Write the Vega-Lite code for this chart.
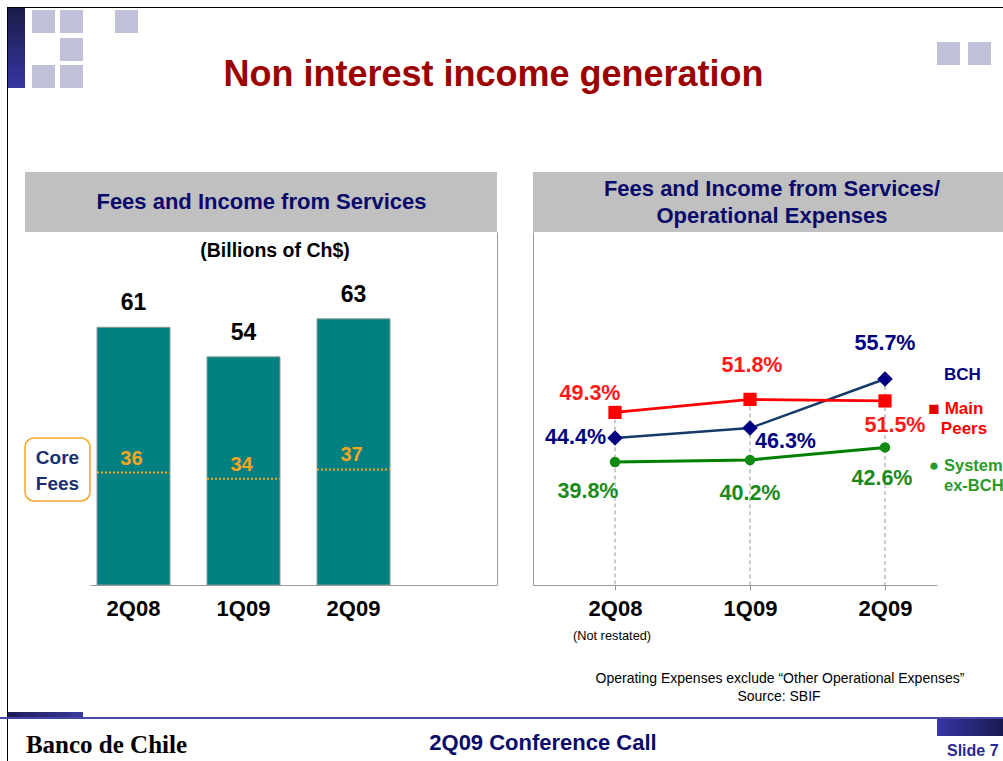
{
  "$schema": "https://vega.github.io/schema/vega-lite/v6.json",
  "padding": 0,
  "background": "white",
  "columns": 6,
  "spacing": 0,
  "bounds": "flush",
  "align": "each",
  "config": {
    "font": "Liberation Sans",
    "view": {"stroke": null},
    "concat": {"spacing": 0},
    "axis": {"grid": false, "title": null}
  },
  "concat": [
    {"columns": 10, "spacing": 0, "bounds": "flush", "align": "each",
     "concat": [
       {"width": 7, "height": 7, "data": {"values": [{}]}, "mark": {"type": "rect", "opacity": 0}},
       {"width": 1, "height": 7, "data": {"values": [{}]}, "mark": {"type": "rect", "opacity": 0}},
       {"width": 17, "height": 7, "data": {"values": [{}]}, "mark": {"type": "rect", "opacity": 0}},
       {"width": 7, "height": 7, "data": {"values": [{}]}, "mark": {"type": "rect", "opacity": 0}},
       {"width": 23, "height": 7, "data": {"values": [{}]}, "mark": {"type": "rect", "opacity": 0}},
       {"width": 5, "height": 7, "data": {"values": [{}]}, "mark": {"type": "rect", "opacity": 0}},
       {"width": 23, "height": 7, "data": {"values": [{}]}, "mark": {"type": "rect", "opacity": 0}},
       {"width": 32, "height": 7, "data": {"values": [{}]}, "mark": {"type": "rect", "opacity": 0}},
       {"width": 23, "height": 7, "data": {"values": [{}]}, "mark": {"type": "rect", "opacity": 0}},
       {"width": 865, "height": 7, "data": {"values": [{}]}, "mark": {"type": "rect", "opacity": 0}},

       {"width": 7, "height": 1, "data": {"values": [{}]}, "mark": {"type": "rect", "opacity": 0}},
       {"width": 1, "height": 1, "view": {"fill": "#000000"}, "data": {"values": [{}]}, "mark": {"type": "rect", "opacity": 0}},
       {"width": 17, "height": 1, "view": {"fill": "#000000"}, "data": {"values": [{}]}, "mark": {"type": "rect", "opacity": 0}},
       {"width": 7, "height": 1, "view": {"fill": "#000000"}, "data": {"values": [{}]}, "mark": {"type": "rect", "opacity": 0}},
       {"width": 23, "height": 1, "view": {"fill": "#000000"}, "data": {"values": [{}]}, "mark": {"type": "rect", "opacity": 0}},
       {"width": 5, "height": 1, "view": {"fill": "#000000"}, "data": {"values": [{}]}, "mark": {"type": "rect", "opacity": 0}},
       {"width": 23, "height": 1, "view": {"fill": "#000000"}, "data": {"values": [{}]}, "mark": {"type": "rect", "opacity": 0}},
       {"width": 32, "height": 1, "view": {"fill": "#000000"}, "data": {"values": [{}]}, "mark": {"type": "rect", "opacity": 0}},
       {"width": 23, "height": 1, "view": {"fill": "#000000"}, "data": {"values": [{}]}, "mark": {"type": "rect", "opacity": 0}},
       {"width": 865, "height": 1, "view": {"fill": "#000000"}, "data": {"values": [{}]}, "mark": {"type": "rect", "opacity": 0}},

       {"width": 7, "height": 2, "data": {"values": [{}]}, "mark": {"type": "rect", "opacity": 0}},
       {"width": 1, "height": 2, "view": {"fill": "#000000"}, "data": {"values": [{}]}, "mark": {"type": "rect", "opacity": 0}},
       {"width": 17, "height": 2, "view": {"fill": "#1c1c49"}, "data": {"values": [{}]}, "mark": {"type": "rect", "opacity": 0}},
       {"width": 1, "height": 1, "data": {"values": [{}]}, "mark": {"type": "rect", "opacity": 0}},
       {"width": 1, "height": 1, "data": {"values": [{}]}, "mark": {"type": "rect", "opacity": 0}},
       {"width": 1, "height": 1, "data": {"values": [{}]}, "mark": {"type": "rect", "opacity": 0}},
       {"width": 1, "height": 1, "data": {"values": [{}]}, "mark": {"type": "rect", "opacity": 0}},
       {"width": 1, "height": 1, "data": {"values": [{}]}, "mark": {"type": "rect", "opacity": 0}},
       {"width": 1, "height": 1, "data": {"values": [{}]}, "mark": {"type": "rect", "opacity": 0}},
       {"width": 1, "height": 1, "data": {"values": [{}]}, "mark": {"type": "rect", "opacity": 0}},

       {"width": 7, "height": 23, "data": {"values": [{}]}, "mark": {"type": "rect", "opacity": 0}},
       {"width": 1, "height": 23, "view": {"fill": "#000000"}, "data": {"values": [{}]}, "mark": {"type": "rect", "opacity": 0}},
       {"width": 17, "height": 23, "view": {"fill": {"gradient": "linear", "x1": 0, "y1": 0, "x2": 0, "y2": 1, "stops": [{"offset": 0, "color": "#1d1d4a"}, {"offset": 1, "color": "#242465"}]}}, "data": {"values": [{}]}, "mark": {"type": "rect", "opacity": 0}},
       {"width": 1, "height": 1, "data": {"values": [{}]}, "mark": {"type": "rect", "opacity": 0}},
       {"width": 23, "height": 23, "view": {"fill": "#c0c0d8"}, "data": {"values": [{}]}, "mark": {"type": "rect", "opacity": 0}},
       {"width": 1, "height": 1, "data": {"values": [{}]}, "mark": {"type": "rect", "opacity": 0}},
       {"width": 23, "height": 23, "view": {"fill": "#c0c0d8"}, "data": {"values": [{}]}, "mark": {"type": "rect", "opacity": 0}},
       {"width": 1, "height": 1, "data": {"values": [{}]}, "mark": {"type": "rect", "opacity": 0}},
       {"width": 23, "height": 23, "view": {"fill": "#c0c0d8"}, "data": {"values": [{}]}, "mark": {"type": "rect", "opacity": 0}},
       {"width": 1, "height": 1, "data": {"values": [{}]}, "mark": {"type": "rect", "opacity": 0}},

       {"width": 7, "height": 5, "data": {"values": [{}]}, "mark": {"type": "rect", "opacity": 0}},
       {"width": 1, "height": 5, "view": {"fill": "#000000"}, "data": {"values": [{}]}, "mark": {"type": "rect", "opacity": 0}},
       {"width": 17, "height": 5, "view": {"fill": {"gradient": "linear", "x1": 0, "y1": 0, "x2": 0, "y2": 1, "stops": [{"offset": 0, "color": "#242465"}, {"offset": 1, "color": "#26266a"}]}}, "data": {"values": [{}]}, "mark": {"type": "rect", "opacity": 0}},
       {"width": 1, "height": 1, "data": {"values": [{}]}, "mark": {"type": "rect", "opacity": 0}},
       {"width": 1, "height": 1, "data": {"values": [{}]}, "mark": {"type": "rect", "opacity": 0}},
       {"width": 1, "height": 1, "data": {"values": [{}]}, "mark": {"type": "rect", "opacity": 0}},
       {"width": 1, "height": 1, "data": {"values": [{}]}, "mark": {"type": "rect", "opacity": 0}},
       {"width": 1, "height": 1, "data": {"values": [{}]}, "mark": {"type": "rect", "opacity": 0}},
       {"width": 1, "height": 1, "data": {"values": [{}]}, "mark": {"type": "rect", "opacity": 0}},
       {"width": 1, "height": 1, "data": {"values": [{}]}, "mark": {"type": "rect", "opacity": 0}},

       {"width": 7, "height": 23, "data": {"values": [{}]}, "mark": {"type": "rect", "opacity": 0}},
       {"width": 1, "height": 23, "view": {"fill": "#000000"}, "data": {"values": [{}]}, "mark": {"type": "rect", "opacity": 0}},
       {"width": 17, "height": 23, "view": {"fill": {"gradient": "linear", "x1": 0, "y1": 0, "x2": 0, "y2": 1, "stops": [{"offset": 0, "color": "#26266a"}, {"offset": 1, "color": "#2d2d85"}]}}, "data": {"values": [{}]}, "mark": {"type": "rect", "opacity": 0}},
       {"width": 1, "height": 1, "data": {"values": [{}]}, "mark": {"type": "rect", "opacity": 0}},
       {"width": 1, "height": 1, "data": {"values": [{}]}, "mark": {"type": "rect", "opacity": 0}},
       {"width": 1, "height": 1, "data": {"values": [{}]}, "mark": {"type": "rect", "opacity": 0}},
       {"width": 23, "height": 23, "view": {"fill": "#c0c0d8"}, "data": {"values": [{}]}, "mark": {"type": "rect", "opacity": 0}},
       {"width": 1, "height": 1, "data": {"values": [{}]}, "mark": {"type": "rect", "opacity": 0}},
       {"width": 1, "height": 1, "data": {"values": [{}]}, "mark": {"type": "rect", "opacity": 0}},
       {"width": 1, "height": 1, "data": {"values": [{}]}, "mark": {"type": "rect", "opacity": 0}},

       {"width": 7, "height": 4, "data": {"values": [{}]}, "mark": {"type": "rect", "opacity": 0}},
       {"width": 1, "height": 4, "view": {"fill": "#000000"}, "data": {"values": [{}]}, "mark": {"type": "rect", "opacity": 0}},
       {"width": 17, "height": 4, "view": {"fill": "#2d2d87"}, "data": {"values": [{}]}, "mark": {"type": "rect", "opacity": 0}},
       {"width": 1, "height": 1, "data": {"values": [{}]}, "mark": {"type": "rect", "opacity": 0}},
       {"width": 1, "height": 1, "data": {"values": [{}]}, "mark": {"type": "rect", "opacity": 0}},
       {"width": 1, "height": 1, "data": {"values": [{}]}, "mark": {"type": "rect", "opacity": 0}},
       {"width": 1, "height": 1, "data": {"values": [{}]}, "mark": {"type": "rect", "opacity": 0}},
       {"width": 1, "height": 1, "data": {"values": [{}]}, "mark": {"type": "rect", "opacity": 0}},
       {"width": 1, "height": 1, "data": {"values": [{}]}, "mark": {"type": "rect", "opacity": 0}},
       {"width": 1, "height": 1, "data": {"values": [{}]}, "mark": {"type": "rect", "opacity": 0}},

       {"width": 7, "height": 23, "data": {"values": [{}]}, "mark": {"type": "rect", "opacity": 0}},
       {"width": 1, "height": 23, "view": {"fill": "#000000"}, "data": {"values": [{}]}, "mark": {"type": "rect", "opacity": 0}},
       {"width": 17, "height": 23, "view": {"fill": {"gradient": "linear", "x1": 0, "y1": 0, "x2": 0, "y2": 1, "stops": [{"offset": 0, "color": "#2e2e8a"}, {"offset": 1, "color": "#3636a4"}]}}, "data": {"values": [{}]}, "mark": {"type": "rect", "opacity": 0}},
       {"width": 1, "height": 1, "data": {"values": [{}]}, "mark": {"type": "rect", "opacity": 0}},
       {"width": 23, "height": 23, "view": {"fill": "#c0c0d8"}, "data": {"values": [{}]}, "mark": {"type": "rect", "opacity": 0}},
       {"width": 1, "height": 1, "data": {"values": [{}]}, "mark": {"type": "rect", "opacity": 0}},
       {"width": 23, "height": 23, "view": {"fill": "#c0c0d8"}, "data": {"values": [{}]}, "mark": {"type": "rect", "opacity": 0}},
       {"width": 1, "height": 1, "data": {"values": [{}]}, "mark": {"type": "rect", "opacity": 0}},
       {"width": 1, "height": 1, "data": {"values": [{}]}, "mark": {"type": "rect", "opacity": 0}},
       {"width": 1, "height": 1, "data": {"values": [{}]}, "mark": {"type": "rect", "opacity": 0}},

       {"width": 7, "height": 624, "data": {"values": [{}]}, "mark": {"type": "rect", "opacity": 0}},
       {"width": 1, "height": 624, "view": {"fill": "#000000"}, "data": {"values": [{}]}, "mark": {"type": "rect", "opacity": 0}},
       {"width": 1, "height": 1, "data": {"values": [{}]}, "mark": {"type": "rect", "opacity": 0}},
       {"width": 1, "height": 1, "data": {"values": [{}]}, "mark": {"type": "rect", "opacity": 0}},
       {"width": 1, "height": 1, "data": {"values": [{}]}, "mark": {"type": "rect", "opacity": 0}},
       {"width": 1, "height": 1, "data": {"values": [{}]}, "mark": {"type": "rect", "opacity": 0}},
       {"width": 1, "height": 1, "data": {"values": [{}]}, "mark": {"type": "rect", "opacity": 0}},
       {"width": 1, "height": 1, "data": {"values": [{}]}, "mark": {"type": "rect", "opacity": 0}},
       {"width": 1, "height": 1, "data": {"values": [{}]}, "mark": {"type": "rect", "opacity": 0}},
       {"width": 1, "height": 1, "data": {"values": [{}]}, "mark": {"type": "rect", "opacity": 0}},

       {"width": 7, "height": 6, "data": {"values": [{}]}, "mark": {"type": "rect", "opacity": 0}},
       {"width": 1, "height": 6, "view": {"fill": "#000000"}, "data": {"values": [{}]}, "mark": {"type": "rect", "opacity": 0}},
       {"width": 17, "height": 6, "view": {"fill": {"gradient": "linear", "x1": 0, "y1": 0, "x2": 1, "y2": 0, "stops": [{"offset": 0, "color": "#1c1c58"}, {"offset": 1, "color": "#232368"}]}}, "data": {"values": [{}]}, "mark": {"type": "rect", "opacity": 0}},
       {"width": 7, "height": 6, "view": {"fill": {"gradient": "linear", "x1": 0, "y1": 0, "x2": 1, "y2": 0, "stops": [{"offset": 0, "color": "#232368"}, {"offset": 1, "color": "#26266e"}]}}, "data": {"values": [{}]}, "mark": {"type": "rect", "opacity": 0}},
       {"width": 23, "height": 6, "view": {"fill": {"gradient": "linear", "x1": 0, "y1": 0, "x2": 1, "y2": 0, "stops": [{"offset": 0, "color": "#26266e"}, {"offset": 1, "color": "#2e2e82"}]}}, "data": {"values": [{}]}, "mark": {"type": "rect", "opacity": 0}},
       {"width": 5, "height": 6, "view": {"fill": {"gradient": "linear", "x1": 0, "y1": 0, "x2": 1, "y2": 0, "stops": [{"offset": 0, "color": "#2e2e82"}, {"offset": 1, "color": "#303086"}]}}, "data": {"values": [{}]}, "mark": {"type": "rect", "opacity": 0}},
       {"width": 23, "height": 6, "view": {"fill": {"gradient": "linear", "x1": 0, "y1": 0, "x2": 1, "y2": 0, "stops": [{"offset": 0, "color": "#303086"}, {"offset": 1, "color": "#3a3a9e"}]}}, "data": {"values": [{}]}, "mark": {"type": "rect", "opacity": 0}},
       {"width": 1, "height": 1, "data": {"values": [{}]}, "mark": {"type": "rect", "opacity": 0}},
       {"width": 1, "height": 1, "data": {"values": [{}]}, "mark": {"type": "rect", "opacity": 0}},
       {"width": 1, "height": 1, "data": {"values": [{}]}, "mark": {"type": "rect", "opacity": 0}},

       {"width": 7, "height": 43, "data": {"values": [{}]}, "mark": {"type": "rect", "opacity": 0}},
       {"width": 1, "height": 43, "view": {"fill": "#000000"}, "data": {"values": [{}]}, "mark": {"type": "rect", "opacity": 0}},
       {"width": 1, "height": 1, "data": {"values": [{}]}, "mark": {"type": "rect", "opacity": 0}},
       {"width": 1, "height": 1, "data": {"values": [{}]}, "mark": {"type": "rect", "opacity": 0}},
       {"width": 1, "height": 1, "data": {"values": [{}]}, "mark": {"type": "rect", "opacity": 0}},
       {"width": 1, "height": 1, "data": {"values": [{}]}, "mark": {"type": "rect", "opacity": 0}},
       {"width": 1, "height": 1, "data": {"values": [{}]}, "mark": {"type": "rect", "opacity": 0}},
       {"width": 1, "height": 1, "data": {"values": [{}]}, "mark": {"type": "rect", "opacity": 0}},
       {"width": 1, "height": 1, "data": {"values": [{}]}, "mark": {"type": "rect", "opacity": 0}},
       {"width": 1, "height": 1, "data": {"values": [{}]}, "mark": {"type": "rect", "opacity": 0}}
     ]},
    {"width": 65, "height": 172, "data": {"values": [{}]}, "mark": {"type": "rect", "opacity": 0}},
    {"width": 407, "height": 172, "data": {"values": [{}]},
     "mark": {"type": "text", "text": "Non interest income generation", "fontSize": 36, "fontWeight": "bold", "color": "#9c0000", "dx": 200, "dy": -11}},
    {"width": 36, "height": 172, "data": {"values": [{}]}, "mark": {"type": "rect", "opacity": 0}},
    {"width": 404, "height": 172, "data": {"values": [{}]}, "mark": {"type": "rect", "opacity": 0}},
    {"columns": 3, "spacing": 0, "bounds": "flush", "align": "each",
     "concat": [
       {"width": 23, "height": 42, "data": {"values": [{}]}, "mark": {"type": "rect", "opacity": 0}},
       {"width": 8, "height": 1, "data": {"values": [{}]}, "mark": {"type": "rect", "opacity": 0}},
       {"width": 23, "height": 1, "data": {"values": [{}]}, "mark": {"type": "rect", "opacity": 0}},
       {"width": 23, "height": 23, "view": {"fill": "#c0c0d8"}, "data": {"values": [{}]}, "mark": {"type": "rect", "opacity": 0}},
       {"width": 1, "height": 1, "data": {"values": [{}]}, "mark": {"type": "rect", "opacity": 0}},
       {"width": 23, "height": 23, "view": {"fill": "#c0c0d8"}, "data": {"values": [{}]}, "mark": {"type": "rect", "opacity": 0}}
     ]},

    {"width": 25, "height": 60, "data": {"values": [{}]}, "mark": {"type": "rect", "opacity": 0}},
    {"width": 65, "height": 60, "view": {"fill": "#c0c0c0"}, "data": {"values": [{}]}, "mark": {"type": "rect", "opacity": 0}},
    {"width": 407, "height": 60, "view": {"fill": "#c0c0c0"}, "data": {"values": [{}]},
     "mark": {"type": "text", "text": "Fees and Income from Services", "fontSize": 22, "fontWeight": "bold", "color": "#0a0a6a", "dx": -32}},
    {"width": 36, "height": 60, "data": {"values": [{}]}, "mark": {"type": "rect", "opacity": 0}},
    {"width": 404, "height": 60, "view": {"fill": "#c0c0c0"}, "data": {"values": [{}]}, "mark": {"type": "rect", "opacity": 0}},
    {"width": 66, "height": 60, "view": {"fill": "#c0c0c0"}, "data": {"values": [{}]},
     "mark": {"type": "text", "text": ["Fees and Income from Services/", "Operational Expenses"], "lineHeight": 27, "fontSize": 22, "fontWeight": "bold", "color": "#0a0a6a", "dx": -198, "dy": -13.5}},

    {"width": 25, "height": 353, "data": {"values": [{}]}, "mark": {"type": "rect", "opacity": 0}},
    {"width": 65, "height": 353, "data": {"values": [{}]},
     "layer": [
       {"mark": {"type": "rect", "fill": "white", "stroke": "#f5a623", "strokeWidth": 1.5, "cornerRadius": 9},
        "encoding": {"y": {"datum": 34.79, "type": "quantitative", "scale": {"domain": [0, 83.55], "nice": false, "zero": false}, "axis": null}, "y2": {"datum": 19.88}}},
       {"mark": {"type": "text", "text": ["Core", "Fees"], "lineHeight": 26, "fontSize": 19, "fontWeight": "bold", "color": "#1a2e6e"},
        "encoding": {"y": {"datum": 30.06, "type": "quantitative"}}}
     ]},
    {"width": 407, "height": 353,
     "data": {"values": [
       {"q": "2Q08", "total": 61, "core": 36},
       {"q": "1Q09", "total": 54, "core": 34},
       {"q": "2Q09", "total": 63, "core": 37}
     ]},
     "encoding": {
       "x": {"field": "q", "type": "nominal", "sort": null,
             "scale": {"paddingInner": 0.3364, "paddingOuter": 0.518, "align": 0.0614},
             "axis": {"orient": "bottom", "labelAngle": 0, "labelFontSize": 22, "labelFontWeight": "bold", "labelColor": "black", "ticks": false, "labelPadding": 13, "domain": true, "domainColor": "#999999", "title": null}}
     },
     "layer": [
       {"mark": {"type": "bar", "color": "#008080", "stroke": "#8f9a9a", "strokeWidth": 1},
        "encoding": {"y": {"field": "total", "type": "quantitative", "scale": {"domain": [0, 83.55], "nice": false},
                           "axis": {"orient": "right", "domain": true, "domainColor": "#999999", "ticks": false, "labels": false, "grid": false, "title": null}}}},
       {"mark": {"type": "text", "fontSize": 23, "fontWeight": "bold", "color": "black", "baseline": "alphabetic", "dy": -17},
        "encoding": {"y": {"field": "total", "type": "quantitative", "scale": {"domain": [0, 83.55], "nice": false}, "axis": null},
                     "text": {"field": "total", "type": "quantitative"}}},
       {"mark": {"type": "bar", "fill": "transparent", "stroke": "#f5a623", "strokeWidth": 2, "strokeDash": [2, 2]},
        "encoding": {"y": {"field": "core", "type": "quantitative", "scale": {"domain": [0, 112.96], "nice": false}, "axis": null},
                     "y2": {"field": "core"}}},
       {"mark": {"type": "text", "fontSize": 20, "fontWeight": "bold", "color": "#f5a623", "baseline": "alphabetic", "dy": -8, "dx": -2},
        "encoding": {"y": {"field": "core", "type": "quantitative", "scale": {"domain": [0, 112.96], "nice": false}, "axis": null},
                     "text": {"field": "core", "type": "quantitative"}}},
       {"data": {"values": [{}]},
        "mark": {"type": "text", "text": "(Billions of Ch$)", "fontSize": 19.5, "fontWeight": "bold", "color": "black", "dx": 31.5},
        "encoding": {"x": {"datum": "1Q09", "type": "nominal"},
                     "y": {"datum": 79.05, "type": "quantitative", "scale": {"domain": [0, 83.55], "nice": false}, "axis": null}}}
     ],
     "resolve": {"scale": {"y": "independent"}, "axis": {"y": "independent"}}
    },
    {"width": 36, "height": 353, "data": {"values": [{}]}, "mark": {"type": "rect", "opacity": 0}},
    {"width": 404, "height": 353,
     "data": {"values": [
       {"q": "2Q08", "s": "BCH", "v": 0.444},
       {"q": "1Q09", "s": "BCH", "v": 0.463},
       {"q": "2Q09", "s": "BCH", "v": 0.557},
       {"q": "2Q08", "s": "Main Peers", "v": 0.493},
       {"q": "1Q09", "s": "Main Peers", "v": 0.518},
       {"q": "2Q09", "s": "Main Peers", "v": 0.515},
       {"q": "2Q08", "s": "System ex-BCH", "v": 0.398},
       {"q": "1Q09", "s": "System ex-BCH", "v": 0.402},
       {"q": "2Q09", "s": "System ex-BCH", "v": 0.426}
     ]},
     "encoding": {
       "x": {"field": "q", "type": "ordinal", "sort": null,
             "scale": {"type": "point", "padding": 0.4963, "align": 0.612},
             "axis": {"orient": "bottom", "labelAngle": 0, "labelFontSize": 22, "labelFontWeight": "bold", "labelColor": "black", "ticks": true, "tickSize": 5, "tickColor": "#999999", "labelPadding": 8, "domain": true, "domainColor": "#999999", "title": null}},
       "y": {"field": "v", "type": "quantitative",
             "scale": {"domain": [0.1624, 0.8386], "zero": false, "nice": false},
             "axis": {"orient": "left", "domain": true, "domainColor": "#999999", "ticks": false, "labels": false, "grid": false, "title": null}}
     },
     "layer": [
       {"mark": {"type": "rule", "color": "#999999", "strokeWidth": 1, "strokeDash": [4, 3]},
        "encoding": {"y": {"aggregate": "max", "field": "v", "type": "quantitative"}, "y2": {"datum": 0.1624}}},
       {"mark": {"type": "line"},
        "encoding": {
          "color": {"field": "s", "type": "nominal", "scale": {"domain": ["BCH", "Main Peers", "System ex-BCH"], "range": ["#143a6a", "#ff0000", "#008000"]}, "legend": null},
          "strokeWidth": {"field": "s", "type": "nominal", "scale": {"domain": ["BCH", "Main Peers", "System ex-BCH"], "range": [2.5, 3, 2]}, "legend": null}
        }},
       {"mark": {"type": "point", "filled": true, "opacity": 1},
        "encoding": {
          "fill": {"field": "s", "type": "nominal", "scale": {"domain": ["BCH", "Main Peers", "System ex-BCH"], "range": ["#000080", "#ff0000", "#118a11"]}, "legend": null},
          "shape": {"field": "s", "type": "nominal", "scale": {"domain": ["BCH", "Main Peers", "System ex-BCH"], "range": ["diamond", "square", "circle"]}, "legend": null},
          "size": {"field": "s", "type": "nominal", "scale": {"domain": ["BCH", "Main Peers", "System ex-BCH"], "range": [240, 110, 80]}, "legend": null}
        }},
       {"transform": [{"filter": "datum.s == 'BCH' && datum.q == '2Q08'"}],
        "mark": {"type": "text", "fontSize": 21.5, "fontWeight": "bold", "color": "#000080", "align": "right", "dx": -9, "dy": 0},
        "encoding": {"text": {"field": "v", "type": "quantitative", "format": ".1%"}}},
       {"transform": [{"filter": "datum.s == 'BCH' && datum.q == '1Q09'"}],
        "mark": {"type": "text", "fontSize": 21.5, "fontWeight": "bold", "color": "#000080", "align": "left", "dx": 5, "dy": 14},
        "encoding": {"text": {"field": "v", "type": "quantitative", "format": ".1%"}}},
       {"transform": [{"filter": "datum.s == 'BCH' && datum.q == '2Q09'"}],
        "mark": {"type": "text", "fontSize": 21.5, "fontWeight": "bold", "color": "#000080", "align": "center", "dx": 0, "dy": -35},
        "encoding": {"text": {"field": "v", "type": "quantitative", "format": ".1%"}}},
       {"transform": [{"filter": "datum.s == 'Main Peers' && datum.q == '2Q08'"}],
        "mark": {"type": "text", "fontSize": 21.5, "fontWeight": "bold", "color": "#ff1a1a", "align": "center", "dx": -25, "dy": -18},
        "encoding": {"text": {"field": "v", "type": "quantitative", "format": ".1%"}}},
       {"transform": [{"filter": "datum.s == 'Main Peers' && datum.q == '1Q09'"}],
        "mark": {"type": "text", "fontSize": 21.5, "fontWeight": "bold", "color": "#ff1a1a", "align": "center", "dx": 2, "dy": -33},
        "encoding": {"text": {"field": "v", "type": "quantitative", "format": ".1%"}}},
       {"transform": [{"filter": "datum.s == 'Main Peers' && datum.q == '2Q09'"}],
        "mark": {"type": "text", "fontSize": 21.5, "fontWeight": "bold", "color": "#ff1a1a", "align": "center", "dx": 10, "dy": 25},
        "encoding": {"text": {"field": "v", "type": "quantitative", "format": ".1%"}}},
       {"transform": [{"filter": "datum.s == 'System ex-BCH' && datum.q == '2Q08'"}],
        "mark": {"type": "text", "fontSize": 21.5, "fontWeight": "bold", "color": "#1a8a1a", "align": "center", "dx": -27, "dy": 30},
        "encoding": {"text": {"field": "v", "type": "quantitative", "format": ".1%"}}},
       {"transform": [{"filter": "datum.s == 'System ex-BCH' && datum.q == '1Q09'"}],
        "mark": {"type": "text", "fontSize": 21.5, "fontWeight": "bold", "color": "#1a8a1a", "align": "center", "dx": 0, "dy": 34},
        "encoding": {"text": {"field": "v", "type": "quantitative", "format": ".1%"}}},
       {"transform": [{"filter": "datum.s == 'System ex-BCH' && datum.q == '2Q09'"}],
        "mark": {"type": "text", "fontSize": 21.5, "fontWeight": "bold", "color": "#1a8a1a", "align": "center", "dx": -3, "dy": 32},
        "encoding": {"text": {"field": "v", "type": "quantitative", "format": ".1%"}}}
     ]
    },
    {"width": 66, "height": 353, "data": {"values": [{}]},
     "layer": [
       {"mark": {"type": "text", "text": "BCH", "fontSize": 17, "fontWeight": "bold", "color": "#000080", "align": "left", "dx": -26},
        "encoding": {"y": {"datum": 0.5647, "type": "quantitative", "scale": {"domain": [0.1624, 0.8386], "zero": false, "nice": false}, "axis": null}}},
       {"mark": {"type": "text", "text": "■", "fontSize": 19, "color": "#e00000", "align": "center", "dx": -36},
        "encoding": {"y": {"datum": 0.4996, "type": "quantitative"}}},
       {"mark": {"type": "text", "text": ["Main", "Peers"], "lineHeight": 20, "fontSize": 17, "fontWeight": "bold", "color": "#ff0000", "align": "center", "dx": -6},
        "encoding": {"y": {"datum": 0.4996, "type": "quantitative"}}},
       {"mark": {"type": "text", "text": "●", "fontSize": 17, "color": "#2a9a2a", "align": "center", "dx": -36},
        "encoding": {"y": {"datum": 0.3904, "type": "quantitative"}}},
       {"mark": {"type": "text", "text": ["System", "ex-BCH"], "lineHeight": 20, "fontSize": 16.5, "fontWeight": "bold", "color": "#2a9a2a", "align": "left", "dx": -26},
        "encoding": {"y": {"datum": 0.3904, "type": "quantitative"}}}
     ]},

    {"width": 25, "height": 132, "data": {"values": [{}]}, "mark": {"type": "rect", "opacity": 0}},
    {"width": 65, "height": 132, "data": {"values": [{}]}, "mark": {"type": "rect", "opacity": 0}},
    {"width": 407, "height": 132, "data": {"values": [{}]}, "mark": {"type": "rect", "opacity": 0}},
    {"width": 36, "height": 132, "data": {"values": [{}]}, "mark": {"type": "rect", "opacity": 0}},
    {"width": 404, "height": 132, "data": {"values": [{}]},
     "layer": [
       {"mark": {"type": "text", "text": "(Not restated)", "fontSize": 12.8, "color": "black", "dx": -123, "dy": -15}},
       {"mark": {"type": "text", "text": "Operating Expenses exclude “Other Operational Expenses”", "fontSize": 14, "color": "black", "dx": 45, "dy": 28}},
       {"mark": {"type": "text", "text": "Source: SBIF", "fontSize": 14, "color": "black", "dx": 44, "dy": 46}}
     ]},
    {"width": 66, "height": 132, "data": {"values": [{}]}, "mark": {"type": "rect", "opacity": 0}},

    {"width": 25, "height": 2, "view": {"fill": "#4646a8"}, "data": {"values": [{}]}, "mark": {"type": "rect", "opacity": 0}},
    {"width": 65, "height": 2, "view": {"fill": "#4646a8"}, "data": {"values": [{}]}, "mark": {"type": "rect", "opacity": 0}},
    {"width": 407, "height": 2, "view": {"fill": "#4646a8"}, "data": {"values": [{}]}, "mark": {"type": "rect", "opacity": 0}},
    {"width": 36, "height": 2, "view": {"fill": "#4646a8"}, "data": {"values": [{}]}, "mark": {"type": "rect", "opacity": 0}},
    {"width": 404, "height": 2, "view": {"fill": "#4646a8"}, "data": {"values": [{}]}, "mark": {"type": "rect", "opacity": 0}},
    {"width": 66, "height": 2, "view": {"fill": "#4646a8"}, "data": {"values": [{}]}, "mark": {"type": "rect", "opacity": 0}},

    {"width": 25, "height": 42, "data": {"values": [{}]}, "mark": {"type": "rect", "opacity": 0}},
    {"width": 65, "height": 42, "data": {"values": [{}]}, "mark": {"type": "rect", "opacity": 0}},
    {"width": 407, "height": 42, "data": {"values": [{}]},
     "mark": {"type": "text", "text": "Banco de Chile", "font": "Liberation Serif", "fontSize": 25, "fontWeight": "bold", "color": "black", "dx": -187, "dy": 5}},
    {"width": 36, "height": 42, "data": {"values": [{}]}, "mark": {"type": "rect", "opacity": 0}},
    {"width": 404, "height": 42, "data": {"values": [{}]},
     "mark": {"type": "text", "text": "2Q09 Conference Call", "fontSize": 22, "fontWeight": "bold", "color": "#0a0a6a", "dx": -192, "dy": 3}},
    {"width": 66, "height": 17,
     "view": {"fill": {"gradient": "linear", "x1": 0, "y1": 0, "x2": 1, "y2": 0, "stops": [{"offset": 0, "color": "#3636a6"}, {"offset": 1, "color": "#1a1a50"}]}},
     "data": {"values": [{}]},
     "mark": {"type": "text", "text": "Slide 7", "fontSize": 16, "fontWeight": "bold", "color": "#2a2a90", "align": "left", "dx": -23, "dy": 23}}
  ]
}
